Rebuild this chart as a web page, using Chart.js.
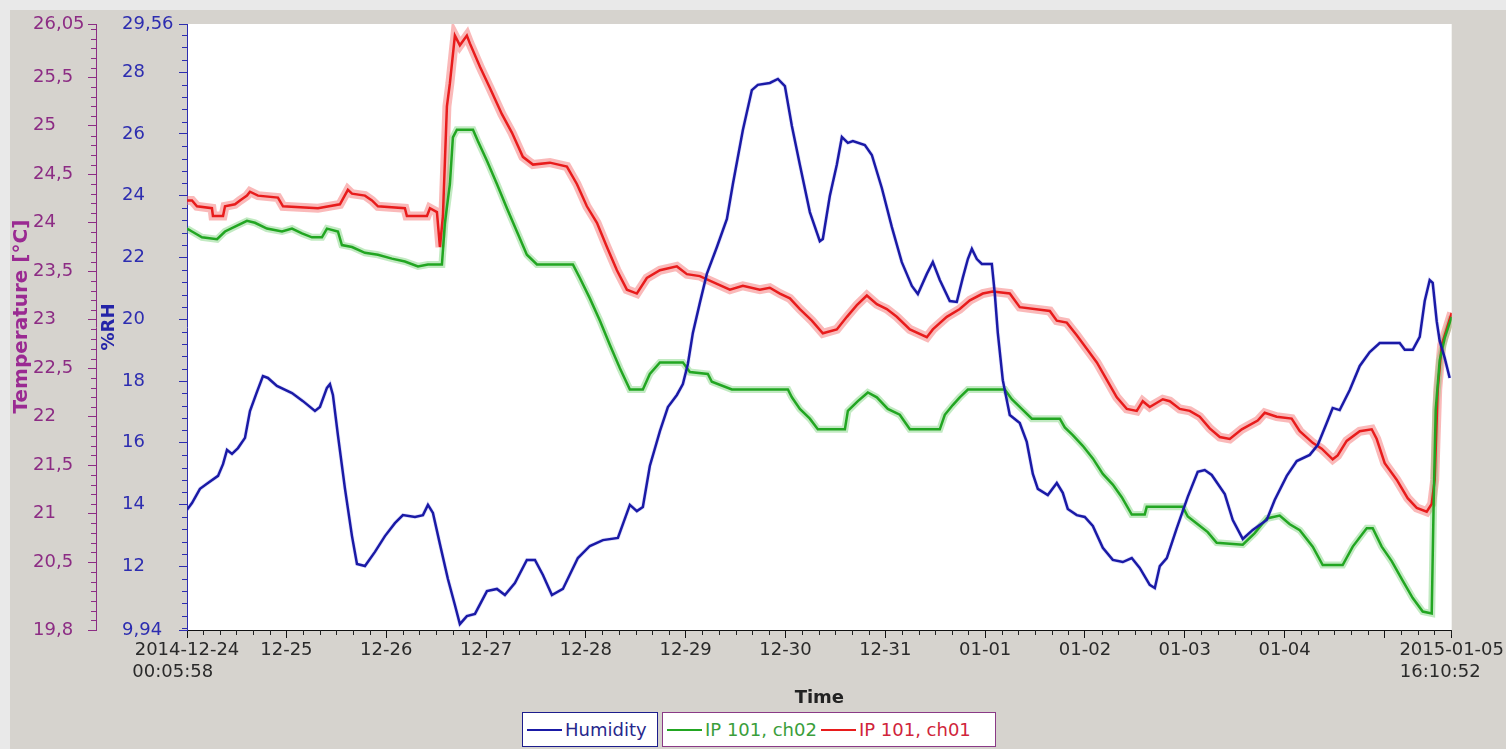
<!DOCTYPE html>
<html>
<head>
<meta charset="utf-8">
<script src="https://cdn.jsdelivr.net/npm/chart.js@4.4.1/dist/chart.umd.min.js"></script>
<style>
  html, body { margin: 0; padding: 0; }
  body { width: 1506px; height: 749px; position: relative; overflow: hidden; background: #e9e9e9; font-family: "DejaVu Sans", sans-serif; }
  #panel { position: absolute; left: 10px; top: 10px; right: 0; bottom: 0; background: #d6d3ce; }
  #c { position: absolute; left: 0; top: 0; }
  .lg { position: absolute; top: 712px; height: 33px; background: #ffffff; display: flex; align-items: center; font-size: 18px; white-space: nowrap; }
  .lg .it { display: flex; align-items: center; margin-left: 4px; margin-right: 0px; }
  .lg .sw { display: inline-block; width: 35px; height: 2px; margin-right: 3px; }
</style>
</head>
<body>
<div id="panel"></div>
<canvas id="c" width="1506" height="749"></canvas>
<div class="lg" id="lg1" style="left:522px; width:134px; border:1px solid #1c1c8c;"></div>
<div class="lg" id="lg2" style="left:662px; width:332px; border:1px solid #8a3a86;"></div>
<script>
// ---- time axis (days since 2014-12-24 00:00) ----
const timeMin = 0.00414;   // 2014-12-24 00:05:58
const timeMax = 12.67421;  // 2015-01-05 16:10:52
const xTickValues = [0.00414, 1, 2, 3, 4, 5, 6, 7, 8, 9, 10, 11, 12, 12.67421];
const xTickLabels = [["2014-12-24", "00:05:58     "], "12-25", "12-26", "12-27", "12-28", "12-29", "12-30", "12-31", "01-01", "01-02", "01-03", "01-04", "", ["2015-01-05", "16:10:52    "]];

// ---- axis ticks ----
const tempTickValues = [19.8, 20.5, 21, 21.5, 22, 22.5, 23, 23.5, 24, 24.5, 25, 25.5, 26.05];
const tempTickLabels = ["19,8", "20,5", "21", "21,5", "22", "22,5", "23", "23,5", "24", "24,5", "25", "25,5", "26,05"];
const humTickValues = [9.94, 12, 14, 16, 18, 20, 22, 24, 26, 28, 29.56];
const humTickLabels = ["9,94", "12", "14", "16", "18", "20", "22", "24", "26", "28", "29,56"];

// ---- Humidity (%RH) ----
const humidityDays = [0.004,0.054,0.134,0.214,0.315,0.365,0.405,0.455,0.515,0.585,0.635,0.705,0.765,0.815,0.905,1.056,1.166,1.286,1.336,1.406,1.436,1.466,1.516,1.587,1.657,1.707,1.787,1.887,1.987,2.087,2.167,2.288,2.368,2.418,2.468,2.538,2.618,2.688,2.738,2.808,2.889,3.009,3.109,3.189,3.289,3.409,3.490,3.570,3.660,3.770,3.920,4.040,4.171,4.321,4.441,4.511,4.571,4.641,4.742,4.822,4.912,4.972,5.022,5.072,5.142,5.212,5.313,5.413,5.473,5.573,5.663,5.723,5.843,5.924,5.994,6.064,6.144,6.244,6.344,6.374,6.444,6.514,6.565,6.625,6.675,6.795,6.865,6.965,7.065,7.165,7.266,7.326,7.416,7.476,7.546,7.646,7.716,7.776,7.827,7.867,7.917,7.967,8.067,8.097,8.127,8.177,8.247,8.347,8.417,8.478,8.528,8.628,8.718,8.778,8.828,8.918,8.998,9.079,9.179,9.279,9.379,9.469,9.549,9.649,9.700,9.750,9.820,9.920,10.030,10.130,10.200,10.270,10.401,10.481,10.581,10.681,10.821,10.901,11.022,11.122,11.252,11.332,11.422,11.482,11.552,11.653,11.753,11.853,11.953,12.153,12.204,12.284,12.354,12.404,12.454,12.484,12.524,12.554,12.604,12.654];
const humidityValues = [13.83,14.05,14.51,14.70,14.93,15.31,15.77,15.64,15.83,16.16,17.03,17.65,18.16,18.10,17.84,17.61,17.35,17.03,17.16,17.78,17.90,17.55,16.25,14.51,12.98,12.08,12.01,12.47,12.98,13.40,13.66,13.60,13.66,13.99,13.73,12.72,11.59,10.75,10.13,10.39,10.46,11.20,11.27,11.07,11.46,12.21,12.21,11.72,11.07,11.27,12.27,12.66,12.85,12.92,13.99,13.79,13.92,15.25,16.38,17.16,17.55,17.90,18.55,19.56,20.53,21.47,22.34,23.25,24.38,26.13,27.42,27.59,27.65,27.78,27.55,26.26,25.00,23.47,22.53,22.60,23.99,25.00,25.90,25.71,25.77,25.64,25.32,24.25,22.99,21.85,21.08,20.82,21.47,21.85,21.27,20.59,20.56,21.34,21.95,22.28,21.95,21.79,21.79,20.82,19.56,18.03,16.90,16.64,16.03,14.99,14.51,14.31,14.70,14.38,13.86,13.66,13.60,13.31,12.60,12.21,12.14,12.27,11.95,11.40,11.30,12.01,12.27,13.24,14.25,15.06,15.12,14.96,14.34,13.50,12.89,13.18,13.50,14.15,14.93,15.41,15.61,15.93,16.64,17.13,17.06,17.71,18.49,18.94,19.23,19.23,19.01,19.01,19.43,20.59,21.27,21.18,19.94,19.30,18.75,18.10];

// ---- IP 101, ch02 (°C) ----
const ch02Days = [0.004,0.054,0.154,0.305,0.385,0.485,0.605,0.685,0.805,0.956,1.056,1.156,1.256,1.356,1.406,1.516,1.556,1.657,1.787,1.917,2.057,2.187,2.318,2.418,2.558,2.588,2.638,2.668,2.708,2.869,2.919,3.009,3.109,3.209,3.309,3.409,3.510,3.870,3.940,4.040,4.141,4.241,4.341,4.441,4.571,4.641,4.742,4.972,5.042,5.222,5.262,5.463,6.024,6.064,6.144,6.244,6.324,6.595,6.625,6.725,6.825,6.915,7.025,7.145,7.246,7.546,7.596,7.676,7.746,7.827,8.197,8.267,8.367,8.468,8.748,8.798,8.878,8.978,9.079,9.179,9.279,9.369,9.469,9.599,9.619,9.980,10.030,10.130,10.230,10.320,10.581,10.701,10.821,10.951,11.052,11.152,11.282,11.382,11.582,11.683,11.823,11.883,11.973,12.073,12.183,12.284,12.384,12.474,12.494,12.514,12.554,12.604,12.674];
const ch02Values = [23.94,23.91,23.85,23.83,23.91,23.96,24.02,24.00,23.94,23.91,23.94,23.89,23.85,23.85,23.94,23.91,23.77,23.75,23.69,23.67,23.63,23.60,23.55,23.57,23.57,24.00,24.40,24.88,24.96,24.96,24.84,24.64,24.40,24.15,23.91,23.67,23.57,23.57,23.43,23.22,22.99,22.74,22.50,22.28,22.28,22.44,22.56,22.56,22.46,22.44,22.36,22.28,22.28,22.20,22.08,21.98,21.87,21.87,22.06,22.16,22.25,22.20,22.08,22.02,21.87,21.87,22.02,22.12,22.20,22.28,22.28,22.18,22.08,21.98,21.98,21.89,21.81,21.70,21.57,21.41,21.30,21.17,20.99,20.99,21.07,21.07,20.97,20.89,20.81,20.70,20.68,20.80,20.95,20.98,20.89,20.83,20.66,20.47,20.47,20.66,20.85,20.85,20.66,20.51,20.31,20.13,19.99,19.97,21.14,22.07,22.58,22.81,23.03];

// ---- IP 101, ch01 (°C) ----
const ch01Days = [0.004,0.054,0.104,0.254,0.264,0.365,0.385,0.485,0.535,0.605,0.635,0.715,0.915,0.966,1.316,1.536,1.616,1.657,1.787,1.857,1.917,2.187,2.207,2.408,2.438,2.508,2.538,2.568,2.608,2.638,2.688,2.738,2.808,2.838,2.939,3.039,3.159,3.259,3.369,3.470,3.640,3.810,3.910,4.010,4.111,4.211,4.311,4.411,4.511,4.611,4.742,4.912,5.012,5.142,5.313,5.443,5.573,5.743,5.843,5.944,6.044,6.144,6.264,6.374,6.514,6.615,6.715,6.815,6.915,7.015,7.115,7.246,7.416,7.476,7.616,7.746,7.847,7.977,8.077,8.247,8.347,8.648,8.718,8.818,8.918,9.018,9.119,9.219,9.319,9.419,9.519,9.579,9.649,9.780,9.850,9.950,10.050,10.150,10.250,10.351,10.451,10.571,10.731,10.801,10.921,11.071,11.152,11.282,11.372,11.482,11.532,11.622,11.753,11.873,11.923,12.003,12.123,12.233,12.324,12.424,12.474,12.504,12.534,12.574,12.674];
const ch01Values = [24.23,24.23,24.17,24.15,24.07,24.07,24.17,24.19,24.23,24.28,24.32,24.28,24.26,24.17,24.15,24.19,24.34,24.30,24.28,24.23,24.17,24.15,24.07,24.07,24.15,24.11,23.75,24.07,25.20,25.44,25.93,25.83,25.93,25.85,25.61,25.39,25.12,24.93,24.68,24.60,24.62,24.58,24.40,24.17,24.00,23.75,23.51,23.31,23.27,23.43,23.51,23.55,23.47,23.45,23.37,23.31,23.35,23.31,23.33,23.27,23.22,23.11,22.99,22.86,22.90,23.03,23.15,23.25,23.16,23.11,23.03,22.90,22.82,22.90,23.03,23.11,23.20,23.27,23.29,23.27,23.13,23.09,22.99,22.97,22.84,22.70,22.56,22.38,22.20,22.08,22.06,22.16,22.10,22.18,22.16,22.08,22.06,22.00,21.88,21.79,21.77,21.87,21.96,22.04,22.00,21.98,21.85,21.73,21.67,21.56,21.60,21.75,21.85,21.87,21.77,21.52,21.35,21.16,21.06,21.02,21.10,21.35,22.28,22.74,23.07];

const seriesNames = ["Humidity", "IP 101, ch02", "IP 101, ch01"];
const seriesColors = ["#1a1aa6", "#22a622", "#e81c1c"];
const legendTextColors = ["#28288c", "#3a9e3a", "#d0243a"];
const bandColors = ["rgba(120,120,235,0.22)", "rgba(110,205,110,0.42)", "rgba(245,115,115,0.5)"];
const bandWidths = [4, 7, 9];

const TEMP_COLOR = "#8c2c84";
const HUM_COLOR = "#2d2db0";

const pts = (xs, ys) => xs.map((x, i) => ({ x: x, y: ys[i] }));

const plotBg = {
  id: 'plotBg',
  beforeDraw(chart) {
    const { ctx, chartArea: a } = chart;
    ctx.save();
    ctx.fillStyle = '#ffffff';
    ctx.fillRect(a.left, a.top, a.right - a.left, a.bottom - a.top);
    ctx.restore();
  }
};

const near = (arr, v) => arr.some(t => Math.abs(t - v) < 1e-6);
const minorTicks = {
  id: 'minorTicks',
  afterDraw(chart) {
    const { ctx } = chart;
    const yT = chart.scales.yT, yH = chart.scales.yH, x = chart.scales.x;
    ctx.save();
    ctx.lineWidth = 1;
    ctx.strokeStyle = TEMP_COLOR;
    for (let k = 198; k <= 260; k++) {
      const v = k / 10;
      if (near(tempTickValues, v)) continue;
      const py = Math.round(yT.getPixelForValue(v)) + 0.5;
      ctx.beginPath(); ctx.moveTo(yT.right - 5, py); ctx.lineTo(yT.right, py); ctx.stroke();
    }
    ctx.strokeStyle = HUM_COLOR;
    for (let k = 25; k <= 73; k++) {
      const v = k * 0.4;
      if (near(humTickValues, v)) continue;
      const py = Math.round(yH.getPixelForValue(v)) + 0.5;
      ctx.beginPath(); ctx.moveTo(yH.right - 5, py); ctx.lineTo(yH.right, py); ctx.stroke();
    }
    ctx.strokeStyle = '#222';
    for (let k = 1; k <= 76; k++) {
      if (k % 6 === 0) continue;
      const v = k / 6;
      if (v > timeMax) continue;
      const px = Math.round(x.getPixelForValue(v)) + 0.5;
      ctx.beginPath(); ctx.moveTo(px, x.top); ctx.lineTo(px, x.top + 5); ctx.stroke();
    }
    ctx.restore();
  }
};

const datasets = [];
const allDays = [humidityDays, ch02Days, ch01Days];
const allVals = [humidityValues, ch02Values, ch01Values];
const axisOf = ['yH', 'yT', 'yT'];
for (let i = 0; i < 3; i++) {
  datasets.push({
    label: seriesNames[i], data: pts(allDays[i], allVals[i]), yAxisID: axisOf[i],
    borderColor: seriesColors[i], borderWidth: 2.5, pointRadius: 0, tension: 0, order: i
  });
}
for (let i = 0; i < 3; i++) {
  datasets.push({
    label: seriesNames[i] + ' range', data: pts(allDays[i], allVals[i]), yAxisID: axisOf[i],
    borderColor: bandColors[i], borderWidth: bandWidths[i], pointRadius: 0, tension: 0, order: 10 + i
  });
}

Chart.defaults.font.family = '"DejaVu Sans", sans-serif';
Chart.defaults.font.size = 18;

new Chart(document.getElementById('c'), {
  type: 'line',
  data: { datasets: datasets },
  plugins: [plotBg, minorTicks],
  options: {
    responsive: false,
    animation: false,
    devicePixelRatio: 1,
    layout: { padding: { left: 10, top: 24, right: 54, bottom: 40 } },
    plugins: { legend: { display: false }, tooltip: { enabled: false } },
    scales: {
      x: {
        type: 'linear', position: 'bottom', min: timeMin, max: timeMax,
        afterBuildTicks: s => { s.ticks = xTickValues.map(v => ({ value: v })); },
        afterFit: s => { s.height = 79; },
        ticks: { autoSkip: false, maxRotation: 0, padding: 2, color: '#2a2a2a', callback: (v, i) => xTickLabels[i] },
        grid: { drawOnChartArea: false, drawTicks: true, tickLength: 8, color: '#111' },
        border: { display: true, color: '#111', width: 1 },
        title: { display: true, text: 'Time', color: '#222', font: { weight: 'bold', size: 18 }, padding: { top: 0, bottom: 0 } }
      },
      tTitle: {
        type: 'linear', position: 'left', weight: 4, min: 0, max: 1,
        afterFit: s => { s.width = 23; },
        ticks: { display: false }, grid: { display: false }, border: { display: false },
        title: { display: true, text: '   Temperature [°C]', color: '#9a2a92', font: { weight: 'bold', size: 20 }, padding: { top: 0, bottom: 0 } }
      },
      yT: {
        type: 'linear', position: 'left', weight: 3, min: 19.8, max: 26.05,
        afterBuildTicks: s => { s.ticks = tempTickValues.map(v => ({ value: v })); },
        afterFit: s => { s.width = 63; },
        ticks: { autoSkip: false, crossAlign: 'far', color: TEMP_COLOR, callback: (v, i) => tempTickLabels[i] },
        grid: { drawOnChartArea: false, drawTicks: true, tickLength: 8, color: TEMP_COLOR },
        border: { display: true, color: TEMP_COLOR, width: 1 }
      },
      rhTitle: {
        type: 'linear', position: 'left', weight: 2, min: 0, max: 1,
        afterFit: s => { s.width = 26; },
        ticks: { display: false }, grid: { display: false }, border: { display: false },
        title: { display: true, text: '%RH', color: '#2424a8', font: { weight: 'bold', size: 18 }, padding: { top: 3, bottom: 0 } }
      },
      yH: {
        type: 'linear', position: 'left', weight: 1, min: 9.94, max: 29.56,
        afterBuildTicks: s => { s.ticks = humTickValues.map(v => ({ value: v })); },
        afterFit: s => { s.width = 65; },
        ticks: { autoSkip: false, crossAlign: 'far', color: HUM_COLOR, callback: (v, i) => humTickLabels[i] },
        grid: { drawOnChartArea: false, drawTicks: true, tickLength: 8, color: HUM_COLOR },
        border: { display: true, color: HUM_COLOR, width: 1 }
      }
    }
  }
});

// HTML legend built from the series names/colors
function addItem(box, i) {
  const it = document.createElement('span'); it.className = 'it';
  const sw = document.createElement('span'); sw.className = 'sw'; sw.style.background = seriesColors[i];
  const tx = document.createElement('span'); tx.textContent = seriesNames[i]; tx.style.color = legendTextColors[i];
  it.appendChild(sw); it.appendChild(tx); box.appendChild(it);
}
addItem(document.getElementById('lg1'), 0);
addItem(document.getElementById('lg2'), 1);
addItem(document.getElementById('lg2'), 2);
</script>
</body>
</html>
